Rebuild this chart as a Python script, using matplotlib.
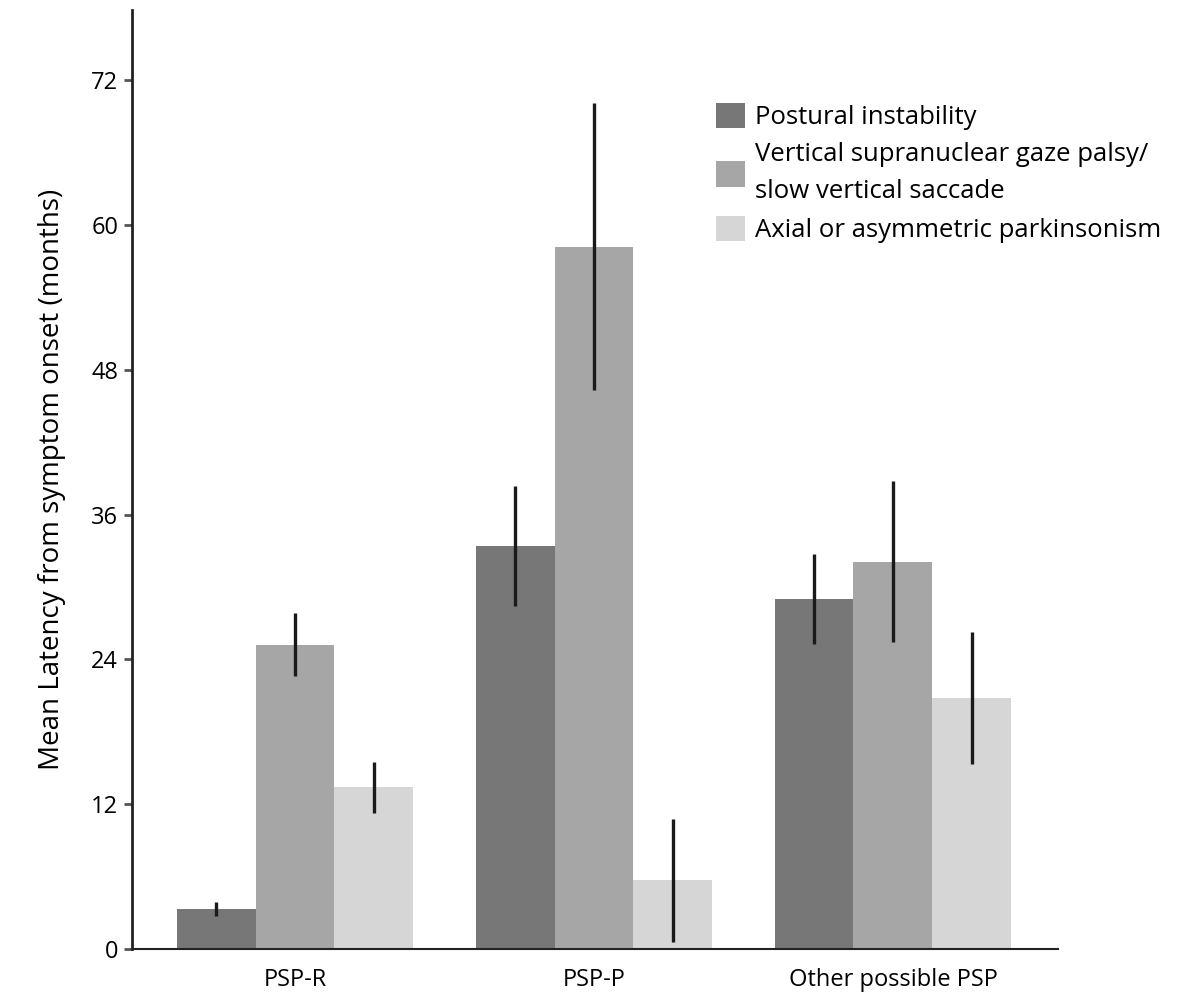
import numpy as np
import matplotlib.pyplot as plt
from matplotlib.patches import Patch

plt.rcParams['font.family'] = ['Open Sans', 'DejaVu Sans']

groups = ['PSP-R', 'PSP-P', 'Other possible PSP']
series = ['Postural instability',
          'Vertical supranuclear gaze palsy/\nslow vertical saccade',
          'Axial or asymmetric parkinsonism']
colors = ['#777777', '#a6a6a6', '#d6d6d6']

postural = [3.3, 33.4, 29.0]
postural_err = [0.6, 5.0, 3.7]
vertical = [25.2, 58.2, 32.1]
vertical_err = [2.6, 11.9, 6.7]
axial = [13.4, 5.7, 20.8]
axial_err = [2.1, 5.1, 5.5]

values = [postural, vertical, axial]
errors = [postural_err, vertical_err, axial_err]

fig = plt.figure(figsize=(11.8, 10), dpi=100)
ax = fig.add_axes([0.1119, 0.051, 0.7847, 0.939])

x = np.arange(len(groups))
w = 0.264
for i in range(3):
    ax.bar(x + (i - 1) * w, values[i], w, color=colors[i], edgecolor='none',
           yerr=errors[i], error_kw=dict(ecolor='#1a1a1a', elinewidth=2.4, capsize=0))

ax.set_xlim(-0.545, 2.552)
ax.set_ylim(0, 77.8)
ax.set_yticks([0, 12, 24, 36, 48, 60, 72])
ax.set_xticks(x)
ax.set_xticklabels(groups)
ax.tick_params(axis='y', labelsize=17, length=6, width=2, color='#555555', pad=4)
ax.tick_params(axis='x', labelsize=17, length=0, pad=14)
ax.set_ylabel('Mean Latency from symptom onset (months)', fontsize=20, labelpad=18)

for s in ['top', 'right']:
    ax.spines[s].set_visible(False)
ax.spines['left'].set_linewidth(2)
ax.spines['bottom'].set_linewidth(1.5)
ax.spines['left'].set_color('#222222')
ax.spines['bottom'].set_color('#222222')

handles = [Patch(facecolor=c, edgecolor='none') for c in colors]
leg = ax.legend(handles, series, loc='upper left', bbox_to_anchor=(0.62, 0.912),
                frameon=False, fontsize=18.5, handlelength=1.1, handleheight=1.15,
                handletextpad=0.4, labelspacing=0.45, borderaxespad=0)
for t in leg.get_texts():
    t.set_linespacing(1.65)

fig.savefig('out.png', dpi=100)
